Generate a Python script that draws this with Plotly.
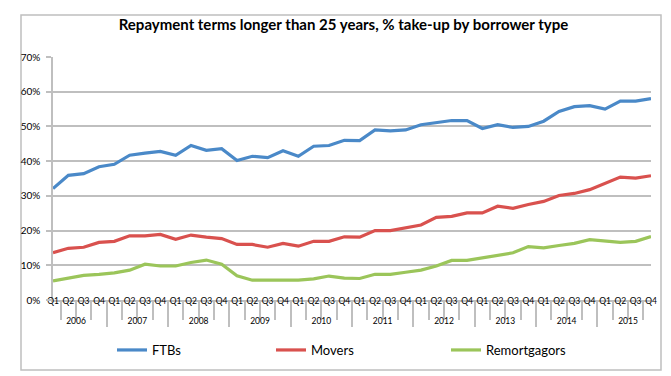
import plotly.graph_objects as go

years = ["2006", "2007", "2008", "2009", "2010", "2011", "2012", "2013", "2014", "2015"]
quarters = ["Q1", "Q2", "Q3", "Q4"]

ftbs = [32.1, 35.9, 36.4, 38.4, 39.1, 41.7, 42.3, 42.8, 41.7, 44.5,
        43.1, 43.6, 40.2, 41.4, 41.0, 43.0, 41.4, 44.3, 44.5, 46.0,
        45.9, 49.0, 48.7, 49.0, 50.5, 51.2, 51.7, 51.7, 49.4, 50.5,
        49.7, 50.0, 51.5, 54.3, 55.7, 56.0, 55.0, 57.3, 57.3, 58.0]
movers = [13.6, 14.9, 15.2, 16.6, 16.9, 18.5, 18.5, 18.9, 17.5, 18.7,
          18.1, 17.7, 16.0, 16.0, 15.2, 16.3, 15.5, 16.9, 16.9, 18.2,
          18.1, 20.0, 20.0, 20.9, 21.6, 23.8, 24.1, 25.1, 25.1, 27.0,
          26.4, 27.5, 28.4, 30.1, 30.7, 31.8, 33.6, 35.4, 35.1, 35.8]
remortgagors = [5.5, 6.4, 7.1, 7.4, 7.8, 8.6, 10.3, 9.8, 9.8, 10.8,
                11.5, 10.3, 7.0, 5.7, 5.7, 5.7, 5.7, 6.1, 6.9, 6.3,
                6.2, 7.4, 7.4, 8.0, 8.6, 9.8, 11.4, 11.4, 12.1, 12.9,
                13.6, 15.4, 15.0, 15.7, 16.3, 17.4, 16.9, 16.6, 16.9, 18.3]

series_names = ["FTBs", "Movers", "Remortgagors"]
series_colors = ["#4A89C8", "#D9514E", "#9BC55A"]

x_years = [y for y in years for _ in quarters]
x_quarters = [q for _ in years for q in quarters]

FONT = "Lato"

fig = go.Figure()
legend_ids = ["legend", "legend2", "legend3"]
for name, vals, color, lg in zip(series_names, [ftbs, movers, remortgagors], series_colors, legend_ids):
    fig.add_trace(go.Scatter(
        x=[x_years, x_quarters],
        y=[v / 100 for v in vals],
        mode="lines",
        name=name,
        line=dict(color=color, width=3.2),
        legend=lg,
        showlegend=True,
    ))

# plot area: x 45..643, y 49..292
L, R, T, B = 45, 643, 49, 292
W, H = 671, 376
pw, ph = R - L, B - T

def px_x(p):
    return (p - L) / pw

def px_y(p):
    return (B - p) / ph

legend_common = dict(orientation="h", font=dict(family=FONT, size=13, color="#000000"),
                     bgcolor="rgba(0,0,0,0)", yanchor="middle", xanchor="left",
                     itemwidth=30, tracegroupgap=0)

fig.update_layout(
    width=W, height=H,
    margin=dict(l=L, r=W - R, t=T, b=H - B),
    paper_bgcolor="#FFFFFF",
    plot_bgcolor="#FFFFFF",
    showlegend=True,
    font=dict(family=FONT, color="#000000"),
    title=dict(text="<b>Repayment terms longer than 25 years, % take-up by borrower type</b>",
               x=0.5, xanchor="center", y=1 - 17 / H, yanchor="middle", yref="container",
               font=dict(family=FONT, size=15, color="#000000")),
    legend=dict(x=px_x(104), y=px_y(342), **legend_common),
    legend2=dict(x=px_x(263), y=px_y(342), **legend_common),
    legend3=dict(x=px_x(438), y=px_y(342), **legend_common),
    xaxis=dict(
        type="multicategory",
        showline=True, linecolor="#BFBFBF", linewidth=1.5,
        ticks="outside", ticklen=18, tickcolor="#BFBFBF", tickwidth=1.5,
        ticklabelstandoff=-8,
        dividercolor="#BFBFBF", dividerwidth=1.5,
        tickangle=0,
        tickfont=dict(family=FONT, size=8.5, color="#000000"),
        showgrid=False,
    ),
    yaxis=dict(
        range=[0, 0.7], dtick=0.1, tickformat=".0%",
        showgrid=True, gridcolor="#BFBFBF", gridwidth=1.5,
        showline=True, linecolor="#BFBFBF", linewidth=1.5,
        ticks="outside", ticklen=5, tickcolor="#BFBFBF", tickwidth=1.5,
        ticklabelstandoff=4,
        tickfont=dict(family=FONT, size=10, color="#000000"),
        zeroline=False,
    ),
)

fig.add_shape(type="rect", xref="paper", yref="paper",
              x0=px_x(13), x1=px_x(653), y0=px_y(362), y1=px_y(7),
              line=dict(color="#BFBFBF", width=1.5), fillcolor="rgba(0,0,0,0)", layer="below")

fig.write_html("out.html")
